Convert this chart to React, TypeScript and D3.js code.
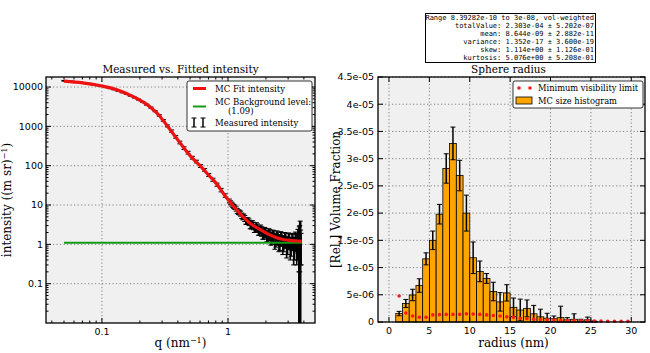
import React, { useRef, useEffect } from 'react';
import * as d3 from 'd3';

const WIDTH = 650;
const HEIGHT = 353;

// Measured intensity (q in 1/nm), its uncertainty
const qMeasured = [
  0.050, 0.054, 0.058, 0.063, 0.068, 0.073, 0.079, 0.085, 0.092, 0.099,
  0.107, 0.115, 0.124, 0.134, 0.145, 0.156, 0.168, 0.181, 0.195, 0.211,
  0.227, 0.245, 0.264, 0.285, 0.307, 0.331, 0.357, 0.385, 0.415, 0.448,
  0.483, 0.521, 0.562, 0.606, 0.653, 0.704, 0.759, 0.818, 0.882, 0.951,
  1.025, 1.05, 1.07, 1.09, 1.11, 1.135, 1.16, 1.185, 1.21, 1.235,
  1.26, 1.285, 1.31, 1.335, 1.36, 1.385, 1.41, 1.44, 1.47, 1.50,
  1.53, 1.56, 1.59, 1.62, 1.65, 1.68, 1.71, 1.745, 1.78, 1.815,
  1.85, 1.885, 1.92, 1.955, 1.99, 2.03, 2.07, 2.11, 2.15, 2.19,
  2.23, 2.27, 2.31, 2.355, 2.40, 2.445, 2.49, 2.535, 2.58, 2.625,
  2.67, 2.72, 2.77, 2.82, 2.87, 2.92, 2.97, 3.02, 3.07, 3.12,
  3.17, 3.22, 3.27, 3.32, 3.37, 3.42, 3.47, 3.51, 3.56, 3.59,
  3.62, 3.65, 3.68, 3.71, 3.74, 3.77, 3.80,
];
const iMeasured = [
  14400, 14100, 13900, 13500, 13100, 12700, 12200, 11700, 11100, 10500,
  9900, 9300, 8700, 8000, 7300, 6700, 6000, 5400, 4800, 4150,
  3550, 3000, 2450, 1900, 1420, 1030, 760, 540, 390, 280,
  215, 160, 128, 98, 78, 58, 44, 33, 24, 17.5,
  12.8, 11.5, 10.6, 9.9, 9.2, 8.8, 8.0, 7.1, 6.6, 6.5,
  6.1, 5.4, 5.0, 5.1, 4.6, 4.0, 3.9, 4.0, 3.7, 3.2,
  3.1, 3.3, 3.0, 2.6, 2.6, 2.9, 2.7, 2.3, 2.3, 2.5,
  2.2, 1.9, 1.9, 2.1, 2.0, 1.7, 1.7, 1.9, 1.8, 1.5,
  1.5, 1.7, 1.65, 1.3, 1.35, 1.6, 1.5, 1.2, 1.2, 1.5,
  1.45, 1.1, 1.15, 1.4, 1.35, 1.0, 1.05, 1.35, 1.3, 0.95,
  1.0, 1.3, 1.25, 0.9, 0.95, 1.35, 1.3, 0.9, 1.1, 1.5,
  1.4, 1.0, 1.2, 1.6, 1.5, 1.3, 1.1,
];
const iMeasuredError = [
  300, 300, 290, 280, 270, 260, 250, 240, 230, 220,
  210, 200, 190, 180, 170, 160, 150, 140, 130, 120,
  110, 100, 90, 80, 70, 60, 50, 40, 30, 22,
  17, 13, 10, 8, 6, 5, 4, 3, 2.4, 1.8,
  1.4, 1.3, 1.2, 1.2, 1.1, 1.1, 1.0, 1.0, 0.9, 0.9,
  0.9, 0.85, 0.8, 0.8, 0.8, 0.75, 0.7, 0.75, 0.7, 0.7,
  0.65, 0.7, 0.65, 0.6, 0.6, 0.65, 0.6, 0.6, 0.6, 0.6,
  0.6, 0.55, 0.55, 0.6, 0.55, 0.55, 0.55, 0.6, 0.55, 0.55,
  0.5, 0.6, 0.55, 0.55, 0.5, 0.6, 0.55, 0.55, 0.5, 0.6,
  0.55, 0.55, 0.5, 0.6, 0.55, 0.55, 0.5, 0.6, 0.55, 0.55,
  0.5, 0.6, 0.55, 0.6, 0.55, 0.7, 0.6, 0.6, 0.7, 0.9,
  1.0, 0.8, 1.6, 1.4, 2.4, 1.0, 0.8,
];

// MC fit curve
const qFit = [
  0.05, 0.07, 0.1, 0.13, 0.177, 0.24, 0.28, 0.326, 0.38, 0.44, 0.5, 0.6,
  0.7, 0.81, 0.95, 1.1, 1.3, 1.5, 1.75, 2.03, 2.4, 2.75, 3.2, 3.85,
];
const iFit = [
  14200, 12800, 10600, 8600, 5700, 3160, 2000, 1080, 560, 302, 180, 100,
  58, 35, 17, 9.5, 5.2, 3.4, 2.5, 1.9, 1.5, 1.33, 1.25, 1.2,
];

const backgroundLevel = 1.09;
const qBackgroundRange = [0.05, 3.85];

// Size histogram (radius in nm)
const radiusEdges = [
  0.839, 1.672, 2.505, 3.339, 4.172, 5.005, 5.838, 6.671, 7.505, 8.338,
  9.171, 10.004, 10.837, 11.670, 12.504, 13.337, 14.170, 15.003, 15.836, 16.670,
  17.503, 18.336, 19.169, 20.002, 20.835, 21.669, 22.502, 23.335, 24.168, 25.001,
  25.835, 26.668, 27.501, 28.334, 29.167, 30.0,
];
const volumeFraction = [
  1.55e-6, 3.4e-6, 4.96e-6, 6.7e-6, 1.16e-5, 1.5e-5, 1.98e-5, 2.82e-5, 3.28e-5, 2.69e-5,
  2.0e-5, 1.18e-5, 9.3e-6, 8.0e-6, 5.6e-6, 3.7e-6, 5.35e-6, 2.7e-6, 2.2e-6, 2.5e-6,
  1.5e-6, 0.95e-6, 0.7e-6, 0.6e-6, 0.8e-6, 0.4e-6, 0.5e-6, 0.2e-6, 0.4e-6, 0.1e-6,
  0, 0, 0, 0, 0,
];
const volumeFractionError = [
  0.4e-6, 0.74e-6, 1.05e-6, 1.24e-6, 1.1e-6, 1.7e-6, 1.8e-6, 2.7e-6, 3.0e-6, 2.8e-6,
  3.3e-6, 2.9e-6, 1.9e-6, 0.9e-6, 1.7e-6, 1.7e-6, 1.5e-6, 1.7e-6, 2.0e-6, 1.55e-6,
  1.55e-6, 1.4e-6, 0.9e-6, 0.5e-6, 2.1e-6, 0.4e-6, 1.0e-6, 0.3e-6, 0.5e-6, 0.1e-6,
  0, 0, 0, 0, 0,
];
const visibilityLimit = [
  4.78e-6, 1.65e-6, 1.1e-6, 0.86e-6, 0.86e-6, 1.3e-6, 1.35e-6, 1.4e-6, 1.4e-6, 1.4e-6,
  1.5e-6, 1.45e-6, 1.4e-6, 1.3e-6, 1.2e-6, 1.1e-6, 0.95e-6, 0.85e-6, 0.7e-6, 0.6e-6,
  0.5e-6, 0.45e-6, 0.4e-6, 0.35e-6, 0.3e-6, 0.28e-6, 0.25e-6, 0.22e-6, 0.2e-6, 0.18e-6,
  0.16e-6, 0.15e-6, 0.14e-6, 0.13e-6, 0.12e-6,
];

const statsLines = [
  'Range 8.39282e-10 to 3e-08, vol-weighted',
  'totalValue:  2.303e-04 ± 5.202e-07',
  'mean:  8.644e-09 ± 2.882e-11',
  'variance:  1.352e-17 ± 3.600e-19',
  'skew:  1.114e+00 ± 1.126e-01',
  'kurtosis:  5.076e+00 ± 5.208e-01',
];

const qTicks = [0.1, 1];
const qTickLabels = ['0.1', '1'];
const intensityTicks = [0.1, 1, 10, 100, 1000, 10000];
const intensityTickLabels = ['0.1', '1', '10', '100', '1000', '10000'];
const radiusTicks = [0, 5, 10, 15, 20, 25, 30];
const fractionTicks = [0, 5e-6, 1e-5, 1.5e-5, 2e-5, 2.5e-5, 3e-5, 3.5e-5, 4e-5, 4.5e-5];
const fractionTickLabels = ['0', '5e-06', '1e-05', '1.5e-05', '2e-05', '2.5e-05', '3e-05', '3.5e-05', '4e-05', '4.5e-05'];

const SERIF = '"DejaVu Serif", serif';
const SANS = '"DejaVu Sans", sans-serif';
const MONO = '"DejaVu Sans Mono", monospace';
const AXES_BG = '#f0f0f0';
const GRID = '#808080';
const TICK_FONT = 9.5;
const RED = '#ee1111';
const GREEN = '#159a15';
const ORANGE = '#ffa500';

type G = d3.Selection<SVGGElement, unknown, null, undefined>;
type Box = { left: number; top: number; right: number; bottom: number };

const App: React.FC = () => {
  const svgRef = useRef<SVGSVGElement>(null);

  useEffect(() => {
    if (!svgRef.current) return;
    const svg = d3.select(svgRef.current);
    svg.selectAll('*').remove();

    svg.append('rect').attr('width', WIDTH).attr('height', HEIGHT).attr('fill', '#fff');

    // helpers for the matplotlib-style frame
    const drawFrame = (g: G, b: Box) => {
      g.append('rect')
        .attr('x', b.left).attr('y', b.top)
        .attr('width', b.right - b.left).attr('height', b.bottom - b.top)
        .attr('fill', 'none').attr('stroke', '#000').attr('stroke-width', 1.3);
    };
    const xTicksIn = (g: G, b: Box, xs: number[], len: number) => {
      xs.forEach(px => {
        g.append('line').attr('x1', px).attr('x2', px).attr('y1', b.bottom).attr('y2', b.bottom - len)
          .attr('stroke', '#000').attr('stroke-width', 1);
        g.append('line').attr('x1', px).attr('x2', px).attr('y1', b.top).attr('y2', b.top + len)
          .attr('stroke', '#000').attr('stroke-width', 1);
      });
    };
    const yTicksIn = (g: G, b: Box, ys: number[], len: number) => {
      ys.forEach(py => {
        g.append('line').attr('y1', py).attr('y2', py).attr('x1', b.left).attr('x2', b.left + len)
          .attr('stroke', '#000').attr('stroke-width', 1);
        g.append('line').attr('y1', py).attr('y2', py).attr('x1', b.right).attr('x2', b.right - len)
          .attr('stroke', '#000').attr('stroke-width', 1);
      });
    };
    const gridLines = (g: G, b: Box, xs: number[], ys: number[]) => {
      xs.forEach(px => g.append('line')
        .attr('x1', px).attr('x2', px).attr('y1', b.top).attr('y2', b.bottom)
        .attr('stroke', GRID).attr('stroke-dasharray', '1.2,2.3'));
      ys.forEach(py => g.append('line')
        .attr('y1', py).attr('y2', py).attr('x1', b.left).attr('x2', b.right)
        .attr('stroke', GRID).attr('stroke-dasharray', '1.2,2.3'));
    };

    // ---------- Left panel: intensity ----------
    const L: Box = { left: 46, top: 77, right: 315, bottom: 323 };
    const x1 = d3.scaleLog().domain([0.036, 4.9]).range([L.left, L.right]);
    const y1 = d3.scaleLog().domain([0.01, 18000]).range([L.bottom, L.top]);

    const g1 = svg.append('g');
    g1.append('rect')
      .attr('x', L.left).attr('y', L.top)
      .attr('width', L.right - L.left).attr('height', L.bottom - L.top)
      .attr('fill', AXES_BG);

    svg.append('clipPath').attr('id', 'clip1')
      .append('rect')
      .attr('x', L.left).attr('y', L.top)
      .attr('width', L.right - L.left).attr('height', L.bottom - L.top);

    gridLines(g1, L, qTicks.map(t => x1(t)), intensityTicks.map(t => y1(t)));

    const data1 = g1.append('g').attr('clip-path', 'url(#clip1)');

    // measured intensity with error bars
    qMeasured.forEach((q, i) => {
      const cx = x1(q);
      const lo = iMeasured[i] - iMeasuredError[i];
      const yTop = y1(iMeasured[i] + iMeasuredError[i]);
      const yBot = lo > 0 ? y1(lo) : L.bottom + 5;
      data1.append('line')
        .attr('x1', cx).attr('x2', cx).attr('y1', yTop).attr('y2', yBot)
        .attr('stroke', '#000').attr('stroke-width', lo > 0 ? 1.6 : 2.6);
      [yTop, yBot].forEach(yy => {
        data1.append('line')
          .attr('x1', cx - 2.5).attr('x2', cx + 2.5).attr('y1', yy).attr('y2', yy)
          .attr('stroke', '#000').attr('stroke-width', 1);
      });
    });

    // background level
    data1.append('line')
      .attr('x1', x1(qBackgroundRange[0])).attr('x2', x1(qBackgroundRange[1]))
      .attr('y1', y1(backgroundLevel)).attr('y2', y1(backgroundLevel))
      .attr('stroke', GREEN).attr('stroke-width', 2);

    // fit
    const fitLine = d3.line<number>()
      .x((_, i) => x1(qFit[i]))
      .y(d => y1(d))
      .curve(d3.curveMonotoneX);
    data1.append('path')
      .datum(iFit)
      .attr('d', fitLine)
      .attr('fill', 'none')
      .attr('stroke', RED)
      .attr('stroke-width', 3.2);

    const qMinor = x1.ticks().filter(t => !qTicks.includes(t));
    const iMinor = y1.ticks().filter(t => !intensityTicks.includes(t) && t !== 0.01);
    xTicksIn(g1, L, qTicks.map(t => x1(t)), 5);
    xTicksIn(g1, L, qMinor.map(t => x1(t)), 2.5);
    yTicksIn(g1, L, intensityTicks.map(t => y1(t)), 5);
    yTicksIn(g1, L, iMinor.map(t => y1(t)), 2.5);
    drawFrame(g1, L);

    qTicks.forEach((t, i) => {
      g1.append('text')
        .attr('x', x1(t)).attr('y', L.bottom + 12)
        .attr('text-anchor', 'middle')
        .attr('font-family', SANS).attr('font-size', TICK_FONT)
        .text(qTickLabels[i]);
    });
    intensityTicks.forEach((t, i) => {
      g1.append('text')
        .attr('x', L.left - 3).attr('y', y1(t) + 3.3)
        .attr('text-anchor', 'end')
        .attr('font-family', SANS).attr('font-size', TICK_FONT)
        .text(intensityTickLabels[i]);
    });

    g1.append('text')
      .attr('x', (L.left + L.right) / 2).attr('y', 73)
      .attr('text-anchor', 'middle')
      .attr('font-family', SERIF).attr('font-size', 10.5)
      .text('Measured vs. Fitted intensity');

    const qLabel = g1.append('text')
      .attr('x', (L.left + L.right) / 2).attr('y', 347)
      .attr('text-anchor', 'middle')
      .attr('font-family', SERIF).attr('font-size', 12);
    qLabel.append('tspan').text('q (nm');
    qLabel.append('tspan').attr('dy', -4.5).attr('font-size', 8).text('−1');
    qLabel.append('tspan').attr('dy', 4.5).text(')');

    const iLabel = g1.append('text')
      .attr('transform', `translate(11,${(L.top + L.bottom) / 2}) rotate(-90)`)
      .attr('text-anchor', 'middle')
      .attr('font-family', SERIF).attr('font-size', 12);
    iLabel.append('tspan').text('intensity ((m sr)');
    iLabel.append('tspan').attr('dy', -4.5).attr('font-size', 8).text('−1');
    iLabel.append('tspan').attr('dy', 4.5).text(')');

    // legend left
    const lg = g1.append('g');
    lg.append('rect')
      .attr('x', 187).attr('y', 81).attr('width', 125).attr('height', 50).attr('rx', 2)
      .attr('fill', '#fff').attr('stroke', '#000').attr('stroke-width', 0.8);
    lg.append('line').attr('x1', 193).attr('x2', 206).attr('y1', 88.5).attr('y2', 88.5)
      .attr('stroke', RED).attr('stroke-width', 3);
    lg.append('line').attr('x1', 193).attr('x2', 206).attr('y1', 106.5).attr('y2', 106.5)
      .attr('stroke', GREEN).attr('stroke-width', 2);
    [194, 203].forEach(cx => {
      lg.append('line').attr('x1', cx).attr('x2', cx).attr('y1', 118).attr('y2', 127)
        .attr('stroke', '#000').attr('stroke-width', 1.5);
      [118, 127].forEach(yy => lg.append('line').attr('x1', cx - 2.5).attr('x2', cx + 2.5)
        .attr('y1', yy).attr('y2', yy).attr('stroke', '#000').attr('stroke-width', 1));
    });
    const legText = [
      { x: 215, y: 91.5, t: 'MC Fit intensity' },
      { x: 215, y: 105, t: 'MC Background level:' },
      { x: 228, y: 114, t: '(1.09)' },
      { x: 215, y: 125.5, t: 'Measured intensity' },
    ];
    legText.forEach(d => {
      lg.append('text').attr('x', d.x).attr('y', d.y)
        .attr('font-family', SERIF).attr('font-size', 8.5).text(d.t);
    });

    // ---------- Right panel: size histogram ----------
    const R: Box = { left: 378, top: 77, right: 645, bottom: 322 };
    const x2 = d3.scaleLinear().domain([-1.36, 31.7]).range([R.left, R.right]);
    const y2 = d3.scaleLinear().domain([0, 4.5e-5]).range([R.bottom, R.top]);

    const g2 = svg.append('g');
    g2.append('rect')
      .attr('x', R.left).attr('y', R.top)
      .attr('width', R.right - R.left).attr('height', R.bottom - R.top)
      .attr('fill', AXES_BG);

    gridLines(g2, R, radiusTicks.map(t => x2(t)), fractionTicks.map(t => y2(t)));

    // bars
    volumeFraction.forEach((v, i) => {
      if (v <= 0) return;
      const xa = x2(radiusEdges[i]);
      const xb = x2(radiusEdges[i + 1]);
      g2.append('rect')
        .attr('x', xa).attr('y', y2(v))
        .attr('width', xb - xa).attr('height', y2(0) - y2(v))
        .attr('fill', ORANGE).attr('stroke', '#000').attr('stroke-width', 0.8);
    });
    // error bars
    volumeFraction.forEach((v, i) => {
      const e = volumeFractionError[i];
      if (e <= 0) return;
      const cx = (x2(radiusEdges[i]) + x2(radiusEdges[i + 1])) / 2;
      const yt = y2(v + e);
      const yb = y2(Math.max(0, v - e));
      g2.append('line').attr('x1', cx).attr('x2', cx).attr('y1', yt).attr('y2', yb)
        .attr('stroke', '#000').attr('stroke-width', 1.5);
      [yt, yb].forEach(yy => g2.append('line').attr('x1', cx - 2.5).attr('x2', cx + 2.5)
        .attr('y1', yy).attr('y2', yy).attr('stroke', '#000').attr('stroke-width', 1));
    });
    // visibility limit
    visibilityLimit.forEach((v, i) => {
      const cx = (x2(radiusEdges[i]) + x2(radiusEdges[i + 1])) / 2;
      g2.append('circle').attr('cx', cx).attr('cy', y2(v)).attr('r', 1.8).attr('fill', '#ff1a1a');
    });

    xTicksIn(g2, R, radiusTicks.map(t => x2(t)), 5);
    yTicksIn(g2, R, fractionTicks.map(t => y2(t)), 5);
    drawFrame(g2, R);

    radiusTicks.forEach(t => {
      g2.append('text')
        .attr('x', x2(t)).attr('y', R.bottom + 12)
        .attr('text-anchor', 'middle')
        .attr('font-family', SANS).attr('font-size', TICK_FONT)
        .text(String(t));
    });
    fractionTicks.forEach((t, i) => {
      g2.append('text')
        .attr('x', R.left - 4).attr('y', y2(t) + 3.3)
        .attr('text-anchor', 'end')
        .attr('font-family', SANS).attr('font-size', TICK_FONT)
        .text(fractionTickLabels[i]);
    });

    g2.append('text')
      .attr('x', (R.left + R.right) / 2 - 3).attr('y', 73)
      .attr('text-anchor', 'middle')
      .attr('font-family', SERIF).attr('font-size', 10.5)
      .text('Sphere radius');
    g2.append('text')
      .attr('x', (R.left + R.right) / 2 + 2).attr('y', 347)
      .attr('text-anchor', 'middle')
      .attr('font-family', SERIF).attr('font-size', 12)
      .text('radius (nm)');
    g2.append('text')
      .attr('transform', `translate(340,${(R.top + R.bottom) / 2}) rotate(-90)`)
      .attr('text-anchor', 'middle')
      .attr('font-family', SERIF).attr('font-size', 12)
      .text('[Rel.] Volume Fraction');

    // legend right
    const rg = g2.append('g');
    rg.append('rect')
      .attr('x', 513).attr('y', 81).attr('width', 130).attr('height', 27).attr('rx', 2)
      .attr('fill', '#fff').attr('stroke', '#000').attr('stroke-width', 0.8);
    [519, 530].forEach(cx => rg.append('circle').attr('cx', cx).attr('cy', 88).attr('r', 1.8).attr('fill', '#ff1a1a'));
    rg.append('rect').attr('x', 516).attr('y', 97).attr('width', 16).attr('height', 7)
      .attr('fill', ORANGE).attr('stroke', '#000').attr('stroke-width', 0.8);
    rg.append('text').attr('x', 538).attr('y', 91).attr('font-family', SERIF).attr('font-size', 8.3)
      .text('Minimum visibility limit');
    rg.append('text').attr('x', 538).attr('y', 104).attr('font-family', SERIF).attr('font-size', 8.3)
      .text('MC size histogram');

    // statistics box
    svg.append('rect')
      .attr('x', 425.5).attr('y', 13.5).attr('width', 170).attr('height', 49)
      .attr('fill', '#fff').attr('stroke', '#000').attr('stroke-width', 1);
    statsLines.forEach((line, i) => {
      svg.append('text')
        .attr('x', 594).attr('y', 19.5 + i * 8.1)
        .attr('text-anchor', 'end')
        .attr('font-family', MONO).attr('font-size', 7)
        .text(line);
    });
  }, []);

  return (
    <svg
      ref={svgRef}
      width={WIDTH}
      height={HEIGHT}
      style={{ position: 'absolute', left: 0, top: 0 }}
    />
  );
};

export default App;
